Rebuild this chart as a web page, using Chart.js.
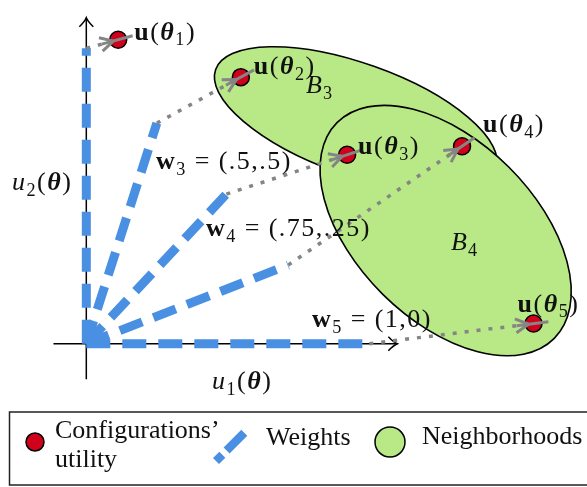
<!DOCTYPE html>
<html>
<head>
<meta charset="utf-8">
<style>
  html, body { margin: 0; padding: 0; background: #fff; }
  canvas { display: block; }
</style>
<script src="https://cdn.jsdelivr.net/npm/chart.js@4/dist/chart.umd.min.js"></script>
</head>
<body>
<canvas id="diagram" width="587" height="487"></canvas>
<script>
// ---- data (utility space, u1 horizontal / u2 vertical) ----
const configIds   = [1, 2, 3, 4, 5];
const utilityU1   = [0.33, 1.60, 2.70, 3.89, 4.63];
const utilityU2   = [3.17, 2.78, 1.97, 2.06, 0.21];

// end points of the weight vectors, all drawn from the origin
const weightIds   = [1, 2, 3, 4, 5];
const weightU1    = [0.00, 0.73, 1.45, 2.09, 2.93];
const weightU2    = [3.08, 2.30, 1.56, 0.82, 0.00];

// weights that carry a value label
const weightLabelIds    = [3, 4, 5];
const weightLabelValues = ['(.5,.5)', '(.75,.25)', '(1,0)'];

// neighborhoods B3, B4 as ellipses: centre, semi-axes, tilt (degrees)
const neighborhoodIds   = [3, 4];
const neighborhoodCx    = [2.79, 3.72];
const neighborhoodCy    = [2.34, 1.18];
const neighborhoodA     = [1.54, 1.585];
const neighborhoodB     = [0.58, 0.927];
const neighborhoodAngle = [-19.6, -44.8];

// extent of the drawn axes
const axisU1Range = [-0.34, 3.22];
const axisU2Range = [-0.37, 3.40];

// ---- styles ----
const BLUE  = '#4A90E2';
const GREEN = '#B8E986';
const RED   = '#D0021B';
const GRAY  = '#858585';
const MATH  = '"Liberation Serif", "Times New Roman", serif';

// ---- text layout (pixels) ----
const utilityLabelOffset = [[16, 0], [13, -3], [11, -1], [21, -14], [-16, -12]];
const weightLabelPos     = [[156, 169], [206, 236], [312, 327]];
const neighborhoodLabelPos = [[306, 93], [451, 250]];
const axisLabelPos = { u1: [212, 389], u2: [12, 190] };

const xy = (xs, ys) => xs.map((x, i) => ({ x, y: ys[i] }));

const datasets = [];
datasets.push({
  label: "Configurations' utility",
  data: xy(utilityU1, utilityU2),
  showLine: false,
  pointRadius: 8.5,
  pointBackgroundColor: RED,
  pointBorderColor: '#000',
  pointBorderWidth: 1.5,
  order: 1
});
weightIds.forEach((id, i) => {
  datasets.push({
    label: 'w' + id,
    data: [{ x: 0, y: 0 }, { x: weightU1[i], y: weightU2[i] }],
    showLine: true,
    borderColor: BLUE,
    borderWidth: 9,
    borderDash: [24, 12],
    borderCapStyle: 'butt',
    pointRadius: 0,
    order: 3
  });
});
configIds.forEach((id, i) => {
  datasets.push({
    label: 'link' + id,
    data: [{ x: weightU1[i], y: weightU2[i] }, { x: utilityU1[i], y: utilityU2[i] }],
    showLine: true,
    borderColor: GRAY,
    borderWidth: 3.5,
    borderDash: [4, 8],
    borderCapStyle: 'butt',
    pointRadius: 0,
    order: 2
  });
});

// mixed-style text: segments of [text, fontStyle, isSubscript]
function drawRich(ctx, x, y, segs, size, spacing) {
  ctx.save();
  ctx.textBaseline = 'alphabetic';
  ctx.textAlign = 'left';
  ctx.fillStyle = '#111';
  if ('letterSpacing' in ctx) ctx.letterSpacing = (spacing || 0) + 'px';
  segs.forEach(([t, st, sub]) => {
    if (t === ' ') { x += size * 0.3; return; }
    const fs = sub ? size * 0.7 : size;
    ctx.font = `${st || ''} ${fs}px ${MATH}`;
    ctx.fillText(t, x, sub ? y + size * 0.22 : y);
    x += ctx.measureText(t).width;
  });
  ctx.restore();
}

function openHead(ctx, tip, dir, len, half) {
  const n = { x: -dir.y, y: dir.x };
  ctx.beginPath();
  ctx.moveTo(tip.x - dir.x * len + n.x * half, tip.y - dir.y * len + n.y * half);
  ctx.quadraticCurveTo(tip.x - dir.x * len * 0.4 + n.x * half * 0.2, tip.y - dir.y * len * 0.4 + n.y * half * 0.2, tip.x, tip.y);
  ctx.quadraticCurveTo(tip.x - dir.x * len * 0.4 - n.x * half * 0.2, tip.y - dir.y * len * 0.4 - n.y * half * 0.2,
                       tip.x - dir.x * len - n.x * half, tip.y - dir.y * len - n.y * half);
  ctx.stroke();
}

const diagramPlugin = {
  id: 'diagram',
  beforeDatasetsDraw(chart) {
    const ctx = chart.ctx, sx = chart.scales.x, sy = chart.scales.y;
    const unit = sx.getPixelForValue(1) - sx.getPixelForValue(0);
    // neighborhoods
    neighborhoodIds.forEach((id, i) => {
      ctx.save();
      ctx.beginPath();
      ctx.ellipse(sx.getPixelForValue(neighborhoodCx[i]), sy.getPixelForValue(neighborhoodCy[i]),
                  neighborhoodA[i] * unit, neighborhoodB[i] * unit,
                  -neighborhoodAngle[i] * Math.PI / 180, 0, Math.PI * 2);
      ctx.fillStyle = GREEN;
      ctx.fill();
      ctx.lineWidth = 1.6;
      ctx.strokeStyle = '#000';
      ctx.stroke();
      ctx.restore();
    });
    // axes with open arrow heads
    ctx.save();
    ctx.strokeStyle = '#000';
    ctx.lineWidth = 1.5;
    const ox = sx.getPixelForValue(0), oy = sy.getPixelForValue(0);
    const x0 = sx.getPixelForValue(axisU1Range[0]), x1 = sx.getPixelForValue(axisU1Range[1]);
    const y0 = sy.getPixelForValue(axisU2Range[0]), y1 = sy.getPixelForValue(axisU2Range[1]);
    ctx.beginPath(); ctx.moveTo(x0, oy); ctx.lineTo(x1, oy); ctx.stroke();
    ctx.beginPath(); ctx.moveTo(ox, y0); ctx.lineTo(ox, y1); ctx.stroke();
    openHead(ctx, { x: x1, y: oy }, { x: 1, y: 0 }, 9, 7);
    openHead(ctx, { x: ox, y: y1 }, { x: 0, y: -1 }, 9, 7);
    ctx.restore();
  },
  afterDatasetsDraw(chart) {
    const ctx = chart.ctx, sx = chart.scales.x, sy = chart.scales.y;
    // arrow heads where the links reach the configurations
    configIds.forEach((id, i) => {
      const P = { x: sx.getPixelForValue(utilityU1[i]), y: sy.getPixelForValue(utilityU2[i]) };
      const W = { x: sx.getPixelForValue(weightU1[i]), y: sy.getPixelForValue(weightU2[i]) };
      const L = Math.hypot(P.x - W.x, P.y - W.y);
      const d = { x: (P.x - W.x) / L, y: (P.y - W.y) / L };
      const n = { x: -d.y, y: d.x };
      const at = (s, t) => ({ x: P.x + d.x * s + n.x * t, y: P.y + d.y * s + n.y * t });
      ctx.save();
      ctx.strokeStyle = GRAY;
      ctx.lineWidth = 3;
      ctx.lineCap = 'butt';
      ctx.lineJoin = 'miter';
      ctx.beginPath();
      let a = at(-17, 0), b = at(15, 0);
      ctx.moveTo(a.x, a.y); ctx.lineTo(b.x, b.y);
      ctx.stroke();
      ctx.beginPath();
      a = at(-18, 7); b = at(-5, 0); const c = at(-18, -7);
      ctx.moveTo(a.x, a.y); ctx.lineTo(b.x, b.y); ctx.lineTo(c.x, c.y);
      ctx.stroke();
      ctx.restore();
      // label u(θ_i)
      const [dx, dy] = utilityLabelOffset[i];
      drawRich(ctx, P.x + dx, P.y + dy, [['u', 'bold'], ['('], ['θ', 'bold italic'], [String(id), '', true], [')']], 26, 1.5);
    });
    // weight labels
    weightLabelIds.forEach((id, i) => {
      const [x, y] = weightLabelPos[i];
      drawRich(ctx, x, y, [['w', 'bold'], [String(id), '', true], [' '], ['='], [' '], [weightLabelValues[i]]], 26, 1.5);
    });
    // neighborhood labels
    neighborhoodIds.forEach((id, i) => {
      const [x, y] = neighborhoodLabelPos[i];
      drawRich(ctx, x, y, [['B', 'italic'], [String(id), '', true]], 26, 1);
    });
    // axis labels
    drawRich(ctx, axisLabelPos.u1[0], axisLabelPos.u1[1], [['u', 'italic'], ['1', '', true], ['('], ['θ', 'bold italic'], [')']], 26, 1.5);
    drawRich(ctx, axisLabelPos.u2[0], axisLabelPos.u2[1], [['u', 'italic'], ['2', '', true], ['('], ['θ', 'bold italic'], [')']], 26, 1.5);

    // legend
    ctx.save();
    ctx.strokeStyle = '#222';
    ctx.lineWidth = 1.5;
    ctx.strokeRect(9.5, 412, 620, 73);
    ctx.beginPath(); ctx.arc(35, 442, 9, 0, Math.PI * 2);
    ctx.fillStyle = RED; ctx.fill(); ctx.strokeStyle = '#000'; ctx.lineWidth = 1.5; ctx.stroke();
    ctx.beginPath(); ctx.arc(390, 442, 15, 0, Math.PI * 2);
    ctx.fillStyle = GREEN; ctx.fill(); ctx.stroke();
    ctx.beginPath();
    ctx.setLineDash([9, 6, 25, 60]);
    ctx.moveTo(216, 461); ctx.lineTo(250, 427);
    ctx.strokeStyle = BLUE; ctx.lineWidth = 8.5; ctx.stroke();
    ctx.setLineDash([]);
    ctx.fillStyle = '#111';
    ctx.font = `26px ${MATH}`;
    ctx.textBaseline = 'alphabetic';
    ctx.fillText("Configurations\u2019", 55, 438);
    ctx.fillText('utility', 55, 467);
    ctx.fillText('Weights', 266, 445);
    ctx.fillText('Neighborhoods', 422, 444);
    ctx.restore();
  }
};

new Chart(document.getElementById('diagram'), {
  type: 'scatter',
  data: { datasets },
  options: {
    responsive: false,
    animation: false,
    devicePixelRatio: 1,
    events: [],
    layout: { padding: 0 },
    scales: {
      x: { type: 'linear', min: -0.79, max: 5.08, display: false },
      y: { type: 'linear', min: -1.39, max: 3.48, display: false }
    },
    plugins: { legend: { display: false }, tooltip: { enabled: false } }
  },
  plugins: [diagramPlugin]
});
</script>
</body>
</html>
